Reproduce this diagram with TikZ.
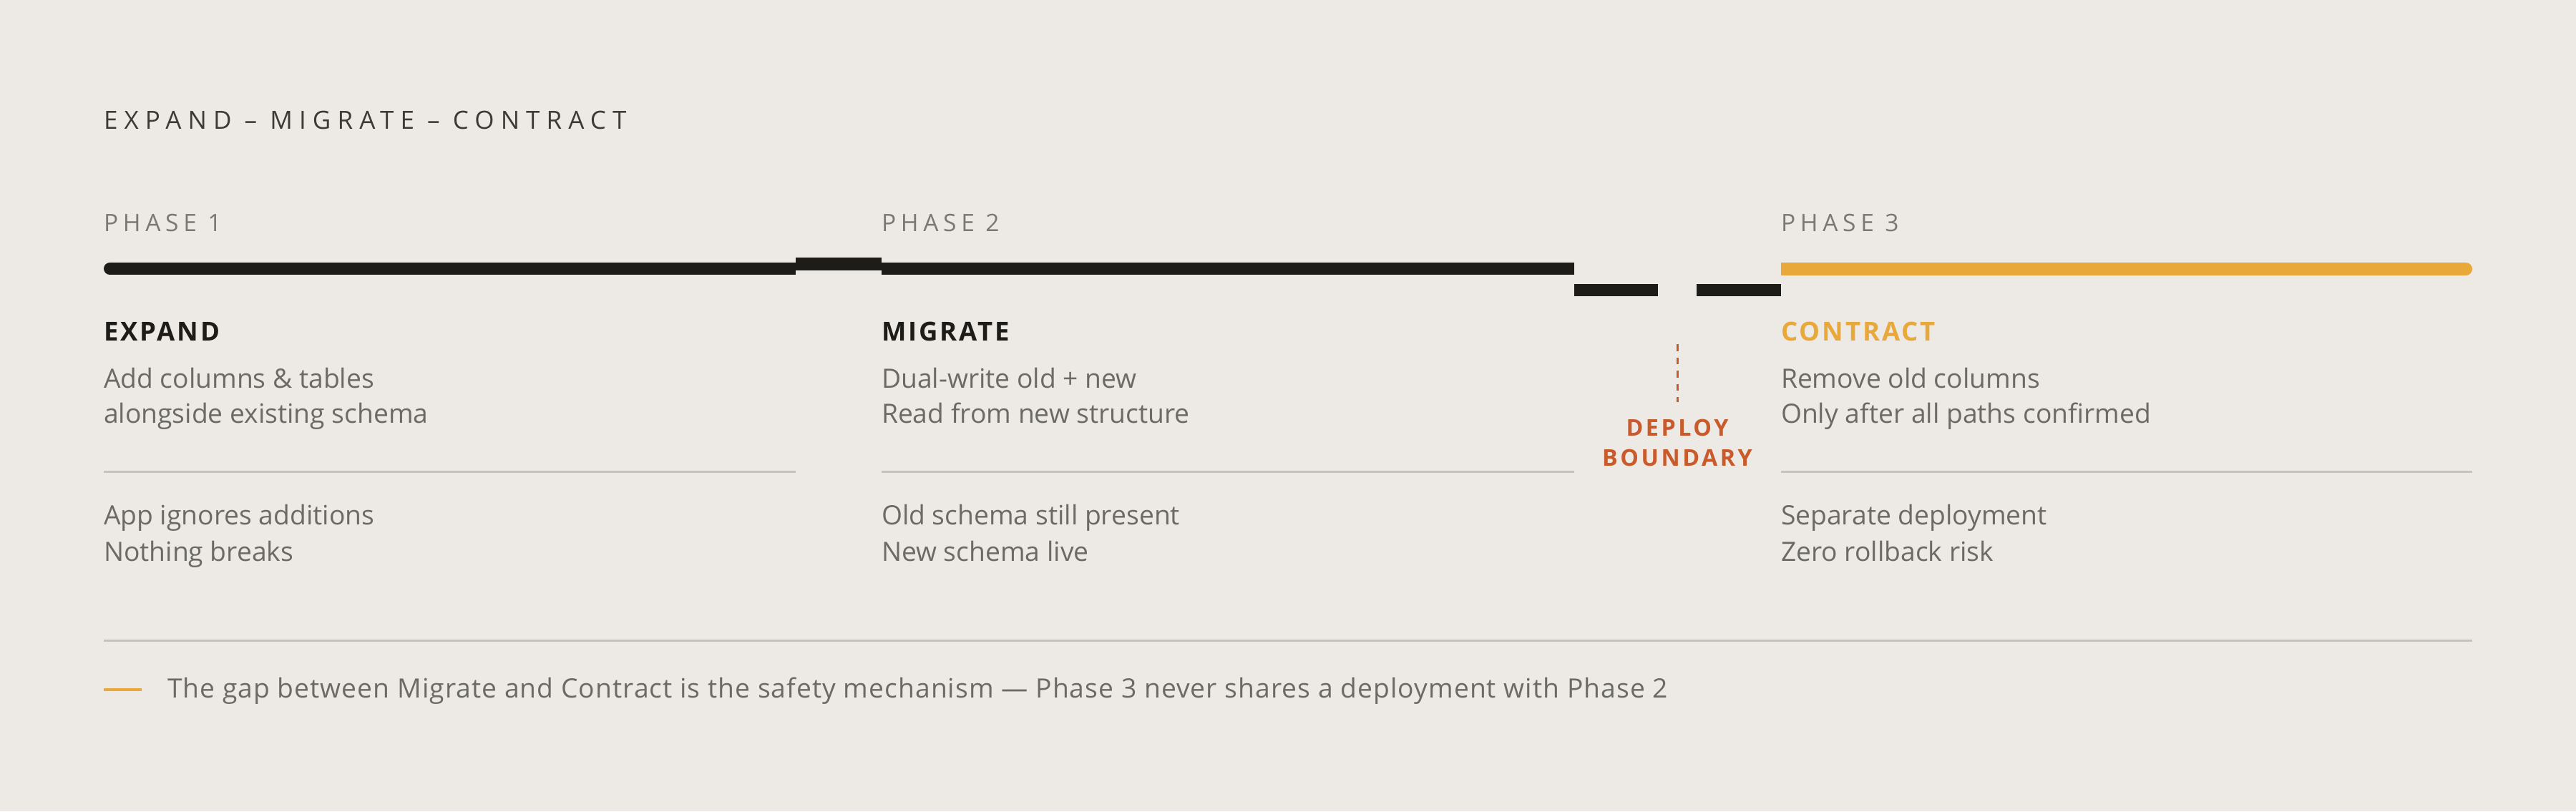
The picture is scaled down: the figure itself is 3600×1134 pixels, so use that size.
\documentclass[tikz,border=0pt]{standalone}
\usepackage{fontspec}
\setmainfont{Open Sans}
\newfontfamily\ttlfont[LetterSpace=26]{Open Sans}
\newfontfamily\phfont[LetterSpace=20]{Open Sans}
\newfontfamily\hdfont[LetterSpace=8]{Open Sans}
\newfontfamily\dbfont[LetterSpace=11]{Open Sans}
\newfontfamily\ftfont[LetterSpace=2.8]{Open Sans}
\definecolor{bg}{HTML}{EDEAE5}
\definecolor{ink}{HTML}{1E1C19}
\definecolor{amber}{HTML}{E8A83A}
\definecolor{rust}{HTML}{C95A2B}
\definecolor{txt}{HTML}{6B6A65}
\definecolor{phg}{HTML}{7A7873}
\definecolor{rule}{HTML}{C6C3BD}
\tikzset{
  lbl/.style={inner sep=0pt, outer sep=0pt, anchor=base west},
  ttl/.style={lbl, text=ink!85!bg, font=\ttlfont\fontsize{7pt}{8pt}\selectfont},
  phase/.style={lbl, text=phg, font=\phfont\fontsize{6.7pt}{8pt}\selectfont},
  head/.style={lbl, text=ink, font=\hdfont\bfseries\fontsize{7.3pt}{8pt}\selectfont},
  body/.style={lbl, text=txt, font=\fontsize{7.45pt}{9pt}\selectfont},
  deploy/.style={inner sep=0pt, outer sep=0pt, anchor=base, text=rust, font=\dbfont\bfseries\fontsize{6.45pt}{8pt}\selectfont},
  foot/.style={lbl, text=txt, font=\ftfont\fontsize{7.45pt}{9pt}\selectfont},
  sep/.style={draw=rule, line width=0.6pt},
}
\begin{document}
\begin{tikzpicture}[x=0.2pt,y=-0.2pt]
\fill[bg] (0,0) rectangle (3600,1134);
\useasboundingbox (0,0) rectangle (3600,1134);
% title
\node[ttl] (title) at (145,180) {EXPAND – MIGRATE – CONTRACT};
% phase labels
\node[phase] (ph1) at (145,323) {PHASE 1};
\node[phase] (ph2) at (1232,323) {PHASE 2};
\node[phase] (ph3) at (2489,323) {PHASE 3};
% timeline bars
\fill[ink] (153.5,367) rectangle (1112,384);
\fill[ink] (153.5,375.5) circle[radius=8.5];
\fill[ink] (1112,360) rectangle (1232,378);
\fill[ink] (1232,367) rectangle (2200,384);
\fill[ink] (2200,397) rectangle (2317,414);
\fill[ink] (2371,397) rectangle (2489,414);
\fill[amber] (2489,367) rectangle (3446,385);
\fill[amber] (3446,376) circle[radius=9];
% deploy boundary
\coordinate (dbtop) at (2344,481);
\coordinate (dbbot) at (2344,562);
\draw[rust, line width=0.6pt, dash pattern=on 1.9pt off 1.8pt] (dbtop) -- (dbbot);
\node[deploy] (dep1) at (2344,609) {DEPLOY};
\node[deploy] (dep2) at (2344,651) {BOUNDARY};
% headers
\node[head] (h1) at (145,476) {EXPAND};
\node[head] (h2) at (1232,476) {MIGRATE};
\node[head, text=amber] (h3) at (2489,476) {CONTRACT};
% body
\node[body] (b1a) at (145,542) {Add columns \& tables};
\node[body] (b1b) at (145,591) {alongside existing schema};
\node[body] (b2a) at (1232,542) {Dual-write old + new};
\node[body] (b2b) at (1232,591) {Read from new structure};
\node[body] (b3a) at (2489,542) {Remove old columns};
\node[body] (b3b) at (2489,591) {Only after all paths confirmed};
% separators
\coordinate (s1a) at (145,659.5); \coordinate (s1b) at (1112,659.5);
\coordinate (s2a) at (1232,659.5); \coordinate (s2b) at (2200,659.5);
\coordinate (s3a) at (2489,659.5); \coordinate (s3b) at (3455,659.5);
\draw[sep] (s1a) -- (s1b);
\draw[sep] (s2a) -- (s2b);
\draw[sep] (s3a) -- (s3b);
% lower notes
\node[body] (c1a) at (145,733) {App ignores additions};
\node[body] (c1b) at (145,784) {Nothing breaks};
\node[body] (c2a) at (1232,733) {Old schema still present};
\node[body] (c2b) at (1232,784) {New schema live};
\node[body] (c3a) at (2489,733) {Separate deployment};
\node[body] (c3b) at (2489,784) {Zero rollback risk};
% footer
\coordinate (fla) at (145,895); \coordinate (flb) at (3455,895);
\draw[sep] (fla) -- (flb);
\coordinate (oda) at (145,964); \coordinate (odb) at (198,964);
\draw[amber, line width=0.8pt] (oda) -- (odb);
\node[foot] (foot) at (234,975) {The gap between Migrate and Contract is the safety mechanism — Phase 3 never shares a deployment with Phase 2};
\end{tikzpicture}
\end{document}
